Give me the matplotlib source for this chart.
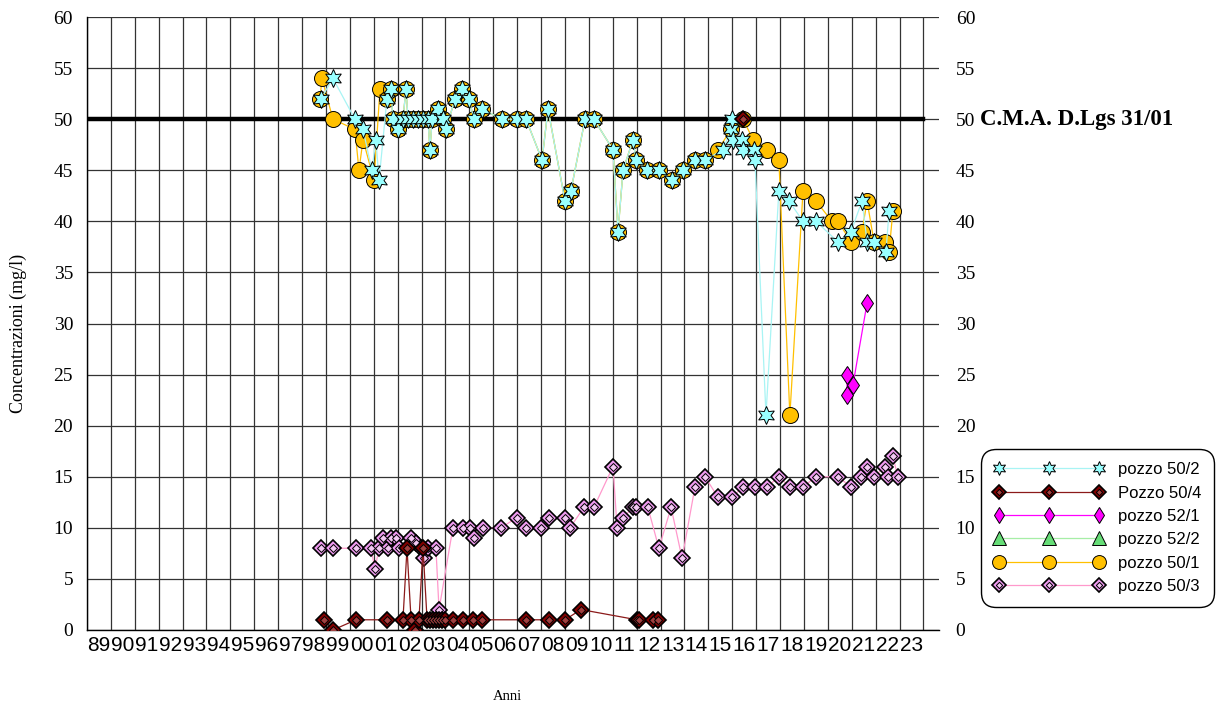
import numpy as np
import matplotlib
matplotlib.use("Agg")
import matplotlib.pyplot as plt
from matplotlib.lines import Line2D
from matplotlib.legend_handler import HandlerTuple

nan = np.nan

# ---- campionamenti (anno decimale, mg/l) ----
t_502 = [1998.79, 1999.29, 2000.21, 2000.55, 2000.92, 2001.09, 2001.22,
         2001.55, 2001.72, 2001.80, 2002.01, 2002.22, 2002.35, 2002.43, 2002.64,
         2002.85, 2003.06, 2003.27, 2003.35, 2003.44, 2003.69, 2003.90, 2004.02,
         2004.40, 2004.69, 2004.98, 2005.19, 2005.53, 2006.36, 2006.99, 2007.37,
         2008.04, 2008.29, 2009.00, 2009.25, 2009.84, 2010.21, 2011.01, 2011.22,
         2011.43, 2011.85, 2011.97, 2012.43, 2012.93, 2013.48, 2013.94, 2014.44,
         2014.86, 2015.61, 2015.95, 2015.99, 2016.03, 2016.41, 2016.45, 2016.91,
         2016.95, 2017.41, 2017.95, 2018.37, 2018.96, 2019.50, 2020.42, 2020.97,
         2021.43, 2021.64, 2021.93, 2022.43, 2022.56]
v_502 = [52, 54, 50, 49, 45, 48, 44,
         52, 53, 50, 49, 50, 53, 50, 50,
         50, 50, 50, 47, 50, 51, 50, 49,
         52, 53, 52, 50, 51, 50, 50, 50,
         46, 51, 42, 43, 50, 50, 47, 39,
         45, 48, 46, 45, 45, 44, 45, 46,
         46, 47, 49, 50, 48, 48, 47, 47,
         46, 21, 43, 42, 40, 40, 38, 39,
         42, 38, 38, 37, 41]

t_504 = [1998.92, 1999.29, 2000.26, 2001.55, 2002.22, 2002.39, 2002.56, 2002.72,
         2002.89, 2003.06, 2003.23, 2003.35, 2003.48, 2003.60, 2003.73, 2003.85,
         2003.98, 2004.31, 2004.73, 2005.15, 2005.53, 2007.37, 2008.33, 2009.00,
         2009.67, 2012.01, 2012.10, 2012.68, 2012.89, nan, 2016.45]
v_504 = [1, 0, 1, 1, 1, 8, 1, 0,
         1, 8, 1, 1, 1, 1, 1, 1,
         1, 1, 1, 1, 1, 1, 1, 1,
         2, 1, 1, 1, 1, nan, 50]

t_521 = [2020.80, 2020.80, 2021.05, 2021.64]
v_521 = [25, 23, 24, 32]

t_522 = [2001.55, 2001.72, 2001.80, 2002.01, 2002.22, 2002.35, 2002.43, 2002.64,
         2002.85, 2003.06, 2003.27, 2003.35, 2003.44, 2003.69, 2003.90, 2004.02,
         2004.40, 2004.69, 2004.98, 2005.19, 2005.53, 2006.36, 2006.99, 2007.37,
         2008.04, 2008.29, 2009.00, 2009.25, 2009.84, 2010.21, 2011.01, 2011.22,
         2011.43, 2011.85, 2011.97, 2012.43, 2012.93, 2013.48, 2013.94, 2014.44,
         2014.86]
v_522 = [52, 53, 50, 49, 50, 53, 50, 50,
         50, 50, 50, 47, 50, 51, 50, 49,
         52, 53, 52, 50, 51, 50, 50, 50,
         46, 51, 42, 43, 50, 50, 47, 39,
         45, 48, 46, 45, 45, 44, 45, 46,
         46]

t_501 = [1998.75, 1998.83, 1999.29, 2000.21, 2000.38, 2000.55, 2001.01, 2001.26,
         2001.55, 2001.72, 2001.80, 2002.01, 2002.22, 2002.35, 2002.43, 2002.64,
         2002.85, 2003.06, 2003.27, 2003.35, 2003.44, 2003.69, 2003.90, 2004.02,
         2004.40, 2004.69, 2004.98, 2005.19, 2005.53, 2006.36, 2006.99, 2007.37,
         2008.04, 2008.29, 2009.00, 2009.25, 2009.84, 2010.21, 2011.01, 2011.22,
         2011.43, 2011.85, 2011.97, 2012.43, 2012.93, 2013.48, 2013.94, 2014.44,
         2014.86, 2015.40, 2015.95, 2016.45, 2016.87, 2017.45, 2017.95, 2018.41,
         2018.96, 2019.50, 2020.17, 2020.42, 2020.97, 2021.43, 2021.64, 2021.93,
         2022.39, 2022.56, 2022.72]
v_501 = [52, 54, 50, 49, 45, 48, 44, 53,
         52, 53, 50, 49, 50, 53, 50, 50,
         50, 50, 50, 47, 50, 51, 50, 49,
         52, 53, 52, 50, 51, 50, 50, 50,
         46, 51, 42, 43, 50, 50, 47, 39,
         45, 48, 46, 45, 45, 44, 45, 46,
         46, 47, 49, 50, 48, 47, 46, 21,
         43, 42, 40, 40, 38, 39, 42, 38,
         38, 37, 41]

t_503 = [1998.79, 1999.29, 2000.26, 2000.88, 2001.05, 2001.22, 2001.38, 2001.59,
         2001.72, 2001.93, 2002.05, 2002.56, 2002.77, 2002.97, 2003.10, 2003.27,
         2003.60, 2003.73, 2004.31, 2004.73, 2005.02, 2005.19, 2005.57, 2006.32,
         2006.99, 2007.37, 2008.00, 2008.33, 2009.00, 2009.21, 2009.79, 2010.21,
         2011.01, 2011.18, 2011.43, 2011.85, 2011.97, 2012.47, 2012.93, 2013.44,
         2013.90, 2014.44, 2014.86, 2015.40, 2015.99, 2016.45, 2016.95, 2017.45,
         2017.95, 2018.41, 2018.96, 2019.50, 2020.42, 2020.97, 2021.38, 2021.64,
         2021.93, 2022.39, 2022.51, 2022.72, 2022.93]
v_503 = [8, 8, 8, 8, 6, 8, 9, 8,
         9, 9, 8, 9, 8.5, 8, 7, 8,
         8, 2, 10, 10, 10, 9, 10, 10,
         11, 10, 10, 11, 11, 10, 12, 12,
         16, 10, 11, 12, 12, 12, 8, 12,
         7, 14, 15, 13, 13, 14, 14, 14,
         15, 14, 14, 15, 15, 14, 15, 16,
         15, 16, 15, 17, 15]

cma_limite = 50
etichetta_cma = "C.M.A. D.Lgs 31/01"
anni = list(range(1989, 2024))
etichette_anni = [f"{a % 100:02d}" for a in anni]
y_ticks = list(range(0, 61, 5))
nomi_pozzi = ["pozzo 50/2", "Pozzo 50/4", "pozzo 52/1", "pozzo 52/2", "pozzo 50/1", "pozzo 50/3"]

SERIF = ["Liberation Serif", "DejaVu Serif"]
SANS = ["Liberation Sans", "DejaVu Sans"]

# stili delle serie
STAR6 = (6, 1, 0)
st_502 = dict(color="#A8F4F4", lw=0.9, marker=STAR6, mfc="#99FFFF", mec="black", mew=0.7)
st_504 = dict(color="#8B1A1A", lw=0.9, marker="D", mfc="#800000", mec="black", mew=1.2)
st_504i = dict(ls="none", marker="D", mfc="#A04040", mec="black", mew=0.7)
st_521 = dict(color="#FF00FF", lw=0.9, marker="d", mfc="#FF00FF", mec="black", mew=0.7)
st_522 = dict(color="#A6EEA6", lw=0.9, marker="^", mfc="#66DD77", mec="black", mew=0.7)
st_501 = dict(color="#FFC000", lw=0.9, marker="o", mfc="#FFC000", mec="black", mew=0.7)
st_503 = dict(color="#FF99CC", lw=0.9, marker="D", mfc="#EE99EE", mec="black", mew=1.2)
st_503i = dict(ls="none", marker="D", mfc="#F4C8F4", mec="black", mew=0.7)

W, H = 1218, 706
fig = plt.figure(figsize=(W / 100, H / 100), dpi=100)
ax = fig.add_axes([87 / W, 76 / H, 852 / W, 613 / H])
ax.set_xlim(1989, 2024.65)
ax.set_ylim(0, 60)

# griglia annuale e ogni 5 mg/l
ax.set_xticks(list(range(1989, 2025)))
ax.set_xticks([a + 0.5 for a in anni], minor=True)
ax.set_xticklabels(etichette_anni, minor=True, fontfamily=SANS, fontsize=15)
ax.tick_params(axis="x", which="major", length=0, labelbottom=False)
ax.tick_params(axis="x", which="minor", length=0, pad=4)
ax.set_yticks(y_ticks)
ax.set_yticklabels([str(v) for v in y_ticks], fontfamily=SERIF, fontsize=14)
ax.tick_params(axis="y", length=0, pad=10)
ax.grid(True, which="major", color="#333333", linewidth=0.9)
ax.set_axisbelow(True)
for s in ("top", "right"):
    ax.spines[s].set_visible(False)
ax.spines["left"].set_linewidth(1.0)
ax.spines["bottom"].set_linewidth(1.0)

ax2 = ax.twinx()
ax2.set_ylim(0, 60)
ax2.set_yticks(y_ticks)
ax2.set_yticklabels([str(v) for v in y_ticks], fontfamily=SERIF, fontsize=14)
ax2.tick_params(axis="y", length=0, pad=12)
for s in ax2.spines.values():
    s.set_visible(False)

# limite di legge
ax.plot([1989, 2024], [cma_limite, cma_limite], color="black", linewidth=3.2, zorder=2)

ax.plot(t_502, v_502, ms=13, zorder=6, **st_502)
ax.plot(t_504, v_504, ms=8.3, zorder=7, **st_504)
ax.plot(t_504, v_504, ms=3.8, zorder=7, **st_504i)
ax.plot(t_521, v_521, ms=9.5, zorder=7, **st_521)
ax.plot(t_522, v_522, ms=8, zorder=3, **st_522)
ax.plot(t_501, v_501, ms=11.5, zorder=4, **st_501)
ax.plot(t_503, v_503, ms=8.3, zorder=5, **st_503)
ax.plot(t_503, v_503, ms=3.8, zorder=5, **st_503i)

fig.text(980 / W, 1 - 120 / H, etichetta_cma, fontfamily=SERIF, fontsize=16.5,
         fontweight="bold", ha="left", va="center")
fig.text(18 / W, 1 - 333 / H, "Concentrazioni (mg/l)", fontfamily=SERIF, fontsize=13,
         rotation=90, ha="center", va="center")
fig.text(507 / W, 1 - 697 / H, "Anni", fontfamily=SERIF, fontsize=10.5,
         ha="center", va="center")

# simboli della legenda (dimensioni proprie)
leg_handles = [
    Line2D([], [], ms=10, **st_502),
    (Line2D([], [], ms=7, **st_504), Line2D([], [], ms=3.2, **st_504i)),
    Line2D([], [], ms=8, **st_521),
    Line2D([], [], ms=10, **st_522),
    Line2D([], [], ms=10, **st_501),
    (Line2D([], [], ms=7, **st_503), Line2D([], [], ms=3.2, **st_503i)),
]
leg = fig.legend(leg_handles, nomi_pozzi, loc="upper left",
                 bbox_to_anchor=(981 / W, 1 - 449 / H), bbox_transform=fig.transFigure,
                 numpoints=3, handlelength=6.6, handletextpad=0.8,
                 labelspacing=0.5, borderpad=0.8, borderaxespad=0, fancybox=True,
                 framealpha=1, edgecolor="black", prop={"family": SANS, "size": 12},
                 handler_map={tuple: HandlerTuple(ndivide=1)})
leg.get_frame().set_linewidth(1.0)
leg.get_frame().set_boxstyle("round", pad=0, rounding_size=0.9)

fig.savefig("out.png", dpi=100)
